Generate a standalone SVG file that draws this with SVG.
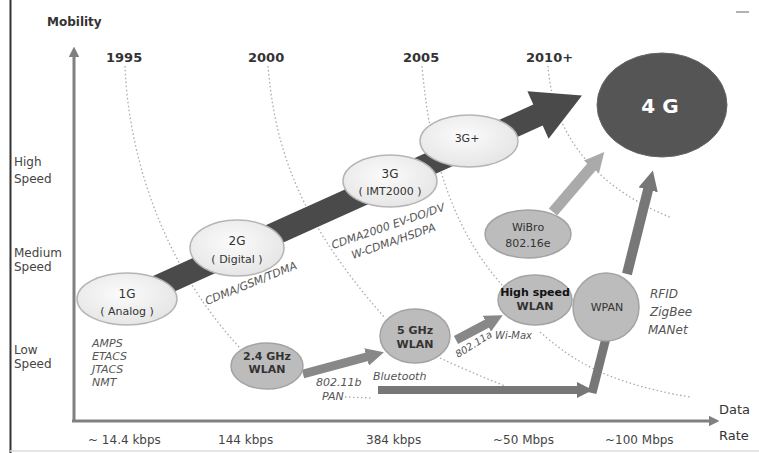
<svg xmlns="http://www.w3.org/2000/svg" width="759" height="453" viewBox="0 0 759 453">
<defs>
<style>
text{font-family:"DejaVu Sans","Liberation Sans",sans-serif;}
.yr{font-size:13px;font-weight:bold;fill:#333;}
.ax{font-size:12px;fill:#444;}
.lbl{font-size:11px;fill:#333;text-anchor:middle;}
.it{font-size:11px;font-style:italic;fill:#555;}
.dot{fill:none;stroke:#aaa;stroke-width:1.3;stroke-dasharray:1.5 2.5;}
.light{fill:url(#lg);stroke:#b5b5b5;stroke-width:1.5;}
.mid{fill:#bcbcbc;stroke:#a3a3a3;stroke-width:1.5;}
</style>
<radialGradient id="lg" cx="0.45" cy="0.4" r="0.65">
<stop offset="0" stop-color="#fbfbfb"/>
<stop offset="1" stop-color="#e4e4e4"/>
</radialGradient>
<marker id="hg" viewBox="0 0 10 10" refX="2" refY="5" markerWidth="2" markerHeight="2" orient="auto"><path d="M0,0 L10,5 L0,10 z" fill="#888"/></marker>
<marker id="hd" viewBox="0 0 10 10" refX="2" refY="5" markerWidth="2" markerHeight="2" orient="auto"><path d="M0,0 L10,5 L0,10 z" fill="#777"/></marker>
<marker id="hl" viewBox="0 0 10 10" refX="2" refY="5" markerWidth="1.8" markerHeight="1.8" orient="auto"><path d="M0,0 L10,5 L0,10 z" fill="#aaa"/></marker>
<marker id="ha" viewBox="0 0 10 10" refX="1" refY="5" markerWidth="3.5" markerHeight="3.5" orient="auto"><path d="M0,0 L10,5 L0,10 z" fill="#808080"/></marker>
</defs>
<rect width="759" height="453" fill="#ffffff"/>
<line x1="10.5" y1="0" x2="10.5" y2="453" stroke="#333" stroke-width="2"/>
<line x1="10" y1="451" x2="759" y2="451" stroke="#ddd" stroke-width="1.5"/>
<line x1="736" y1="12" x2="749" y2="12" stroke="#999" stroke-width="1.5"/>

<g id="axes">
<line x1="74" y1="421" x2="74" y2="56" stroke="#808080" stroke-width="3" marker-end="url(#ha)"/>
<line x1="72" y1="421" x2="710" y2="421" stroke="#808080" stroke-width="3" marker-end="url(#ha)"/>
<text x="47" y="26" style="font-size:12px;font-weight:bold;fill:#333">Mobility</text>
<text x="14" y="166" class="ax">High</text>
<text x="14" y="183" class="ax">Speed</text>
<text x="14" y="257" class="ax">Medium</text>
<text x="14" y="271" class="ax">Speed</text>
<text x="14" y="354" class="ax">Low</text>
<text x="14" y="368" class="ax">Speed</text>
<text x="88" y="444" class="ax">~ 14.4 kbps</text>
<text x="218" y="444" class="ax">144 kbps</text>
<text x="366" y="444" class="ax">384 kbps</text>
<text x="493" y="444" class="ax">~50 Mbps</text>
<text x="605" y="444" class="ax">~100 Mbps</text>
<text x="719" y="414" style="font-size:13px;fill:#333">Data</text>
<text x="719" y="440" style="font-size:13px;fill:#333">Rate</text>
</g>

<g id="years">
<text x="106" y="62" class="yr">1995</text>
<text x="248" y="62" class="yr">2000</text>
<text x="403" y="62" class="yr">2005</text>
<text x="526" y="62" class="yr">2010+</text>
</g>

<g id="timelines">
<path class="dot" d="M125,66 C128,150 160,262 240,348"/>
<path class="dot" d="M345,397 L372,398"/>
<path class="dot" d="M268,66 C275,150 300,222 385,318"/>
<path class="dot" d="M440,358 Q470,372 505,386"/>
<path class="dot" d="M422,66 C430,160 455,232 502,285"/>
<path class="dot" d="M540,332 C568,356 600,382 690,397"/>
<path class="dot" d="M548,66 C552,122 582,182 672,218"/>
</g>

<g id="connectors">
<polygon points="134.7,309.5 125.3,288.5 533.3,104.5 527.4,91.2 582,95.5 548.6,138.8 542.7,125.5" fill="#4a4a4a"/>
<line x1="303" y1="374" x2="370" y2="356" stroke="#888" stroke-width="9" marker-end="url(#hg)"/>
<line x1="456" y1="340" x2="490" y2="322" stroke="#888" stroke-width="9" marker-end="url(#hg)"/>
<line x1="553" y1="212" x2="594" y2="164" stroke="#aaa" stroke-width="11" marker-end="url(#hl)"/>
<line x1="627" y1="274" x2="649" y2="186" stroke="#777" stroke-width="10" marker-end="url(#hd)"/>
<line x1="378" y1="390" x2="580" y2="390" stroke="#777" stroke-width="8" marker-end="url(#hd)"/>
<line x1="592" y1="393" x2="606" y2="338" stroke="#777" stroke-width="9"/>
</g>

<g id="n1G">
<ellipse cx="127" cy="299" rx="50" ry="26" class="light"/>
<text x="127" y="298" class="lbl" style="font-size:12px">1G</text>
<text x="127" y="315" class="lbl">( Analog )</text>
</g>
<g id="n2G">
<ellipse cx="237" cy="248" rx="47" ry="28" class="light"/>
<text x="237" y="245" class="lbl" style="font-size:12px">2G</text>
<text x="237" y="263" class="lbl">( Digital )</text>
</g>
<g id="n3Gplus">
<ellipse cx="469" cy="141" rx="49" ry="26" class="light"/>
<text x="467" y="142" class="lbl">3G+</text>
</g>
<g id="n3G">
<ellipse cx="390" cy="181" rx="47" ry="26" class="light"/>
<text x="390" y="178" class="lbl" style="font-size:12px">3G</text>
<text x="390" y="195" class="lbl">( IMT2000 )</text>
</g>
<g id="n4G">
<ellipse cx="662" cy="105" rx="65" ry="52" fill="#555" stroke="#666" stroke-width="1"/>
<text x="660" y="113" style="font-size:20px;font-weight:bold;fill:#fff;text-anchor:middle">4 G</text>
</g>
<g id="nWiBro">
<ellipse cx="528" cy="234" rx="43" ry="24" class="mid"/>
<text x="528" y="231" class="lbl">WiBro</text>
<text x="528" y="247" class="lbl">802.16e</text>
</g>
<g id="nHSWLAN">
<ellipse cx="535" cy="300" rx="37" ry="25" class="mid"/>
<text x="535" y="296" class="lbl" style="font-weight:bold;fill:#111">High speed</text>
<text x="535" y="310" class="lbl" style="font-weight:bold;fill:#333">WLAN</text>
</g>
<g id="nWPAN">
<ellipse cx="606" cy="307" rx="33" ry="34" class="mid"/>
<text x="607" y="311" class="lbl">WPAN</text>
</g>
<g id="n5GHz">
<ellipse cx="415" cy="336" rx="35" ry="27" class="mid"/>
<text x="415" y="334" class="lbl" style="font-weight:bold">5 GHz</text>
<text x="415" y="348" class="lbl" style="font-weight:bold">WLAN</text>
</g>
<g id="n24GHz">
<ellipse cx="267" cy="366" rx="36" ry="23" class="mid"/>
<text x="267" y="360" class="lbl" style="font-weight:bold">2.4 GHz</text>
<text x="267" y="373" class="lbl" style="font-weight:bold">WLAN</text>
</g>

<g id="labels">
<text x="92" y="347" class="it">AMPS</text>
<text x="92" y="360" class="it">ETACS</text>
<text x="92" y="373" class="it">JTACS</text>
<text x="92" y="386" class="it">NMT</text>
<text x="207" y="305" class="it" transform="rotate(-22 207 305)">CDMA/GSM/TDMA</text>
<text x="333" y="249" class="it" transform="rotate(-19 333 249)">CDMA2000 EV-DO/DV</text>
<text x="353" y="259" class="it" transform="rotate(-19 353 259)">W-CDMA/HSDPA</text>
<text x="316" y="386" class="it">802.11b</text>
<text x="322" y="400" class="it">PAN</text>
<text x="373" y="380" class="it">Bluetooth</text>
<text x="458" y="358" class="it" style="font-size:10px" transform="rotate(-32 458 358)">802.11a</text>
<text x="495" y="339" class="it" style="font-size:10px">Wi-Max</text>
<text x="650" y="298" class="it" style="font-size:12px">RFID</text>
<text x="650" y="316" class="it" style="font-size:12px">ZigBee</text>
<text x="648" y="334" class="it" style="font-size:12px">MANet</text>
</g>
</svg>
